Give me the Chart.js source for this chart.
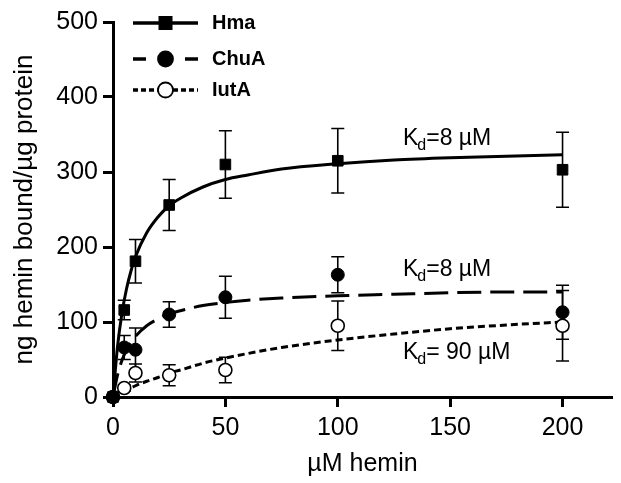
<!DOCTYPE html>
<html>
<head>
<meta charset="utf-8">
<script src="https://cdn.jsdelivr.net/npm/chart.js@4.4.1/dist/chart.umd.min.js"></script>
<style>
  html, body { margin: 0; padding: 0; background: #fff; }
  #wrap { width: 621px; height: 483px; }
</style>
</head>
<body>
<div id="wrap"><canvas id="bindingChart" width="621" height="483"></canvas></div>
<script>
// Concentrations (µM hemin) and measured binding (ng hemin / µg protein)
const concentrations = [0, 5, 10, 25, 50, 100, 200];
const hmaBound = [0, 116, 181, 256, 310, 315, 303];
const hmaErr = [0, 13, 29, 34, 45, 43, 50];
const chuaBound = [0, 66, 63, 110, 133, 163, 113];
const chuaErr = [0, 16, 29, 17, 28, 24, 36];
const iutaBound = [0, 12, 32, 29, 36, 95, 95];
const iutaErr = [0, 4, 12, 14, 17, 33, 47];

// Fitted saturation curves
const fitX = [0, 2, 4, 6, 8, 10, 15, 20, 25, 30, 40, 50, 60, 75, 100, 125, 150, 175, 200];
const hmaFit = [0, 67, 112, 144, 168, 187, 219, 240, 255, 265, 280, 290, 296, 304, 311, 316, 319, 321, 323];
const chuaFit = [0, 29, 49, 63, 73, 81, 95, 104, 111, 115, 122, 126, 129, 132, 135, 137, 139, 140, 140];
const iutaFit = [0, 3, 6, 9, 12, 15, 21, 26, 32, 36, 45, 52, 58, 66, 76, 84, 91, 96, 100];

const seriesNames = ["Hma", "ChuA", "IutA"];
const kdLabels = ["=8 µM", "=8 µM", "= 90 µM"];
const kdPos = [[129, 345], [129, 170], [129, 59]];

const xTicks = [0, 50, 100, 150, 200];
const yTicks = [0, 100, 200, 300, 400, 500];

const FONT = "Arial, 'Liberation Sans', sans-serif";
Chart.defaults.font.family = FONT;
Chart.defaults.color = "#000";

const pts = (ys) => concentrations.map((x, i) => ({ x: x, y: ys[i] }));
const fit = (ys) => fitX.map((x, i) => ({ x: x, y: ys[i] }));

const styles = [
    { dash: [], legendDash: [], pointStyle: "rect", radius: 7.5, fill: "#000" },
    { dash: [24, 9], legendDash: [13, 13], pointStyle: "circle", radius: 6.5, fill: "#000" },
    { dash: [7, 4], legendDash: [5, 3], pointStyle: "circle", radius: 6.5, fill: "#fff" },
];

// Error bars, drawn below the markers
const errorBars = {
    id: "errorBars",
    beforeDatasetsDraw(chart) {
        const ctx = chart.ctx;
        const xs = chart.scales.x, ys = chart.scales.y;
        const sets = [[hmaBound, hmaErr], [chuaBound, chuaErr], [iutaBound, iutaErr]];
        ctx.save();
        ctx.strokeStyle = "#000";
        ctx.lineWidth = 1.6;
        sets.forEach(([vals, errs]) => {
            concentrations.forEach((c, i) => {
                if (!errs[i]) return;
                const px = xs.getPixelForValue(c);
                const top = ys.getPixelForValue(vals[i] + errs[i]);
                const bot = ys.getPixelForValue(vals[i] - errs[i]);
                ctx.beginPath();
                ctx.moveTo(px, top); ctx.lineTo(px, bot);
                ctx.moveTo(px - 6.5, top); ctx.lineTo(px + 6.5, top);
                ctx.moveTo(px - 6.5, bot); ctx.lineTo(px + 6.5, bot);
                ctx.stroke();
            });
        });
        ctx.restore();
    },
};

// Legend in the upper left + Kd labels
const annotations = {
    id: "annotations",
    afterDraw(chart) {
        const ctx = chart.ctx;
        const area = chart.chartArea;
        const rows = [0, 36, 67];
        ctx.save();
        styles.forEach((s, i) => {
            const y = area.top + 1 + rows[i];
            const x0 = area.left + 20, x1 = area.left + 85, xm = (x0 + x1) / 2;
            ctx.strokeStyle = "#000";
            ctx.lineWidth = 3.5;
            ctx.setLineDash(s.legendDash);
            ctx.beginPath();
            ctx.moveTo(x0, y); ctx.lineTo(x1, y);
            ctx.stroke();
            ctx.setLineDash([]);
            ctx.fillStyle = s.fill;
            ctx.lineWidth = 1.8;
            if (s.pointStyle === "rect") {
                ctx.fillRect(xm - 7, y - 7, 14, 14);
            } else {
                ctx.beginPath();
                ctx.arc(xm, y, 7.5, 0, Math.PI * 2);
                ctx.fill();
                ctx.stroke();
            }
            ctx.fillStyle = "#000";
            ctx.font = "bold 20px " + FONT;
            ctx.textBaseline = "middle";
            ctx.fillText(seriesNames[i], area.left + 99, y);
        });

        const xs = chart.scales.x, ys = chart.scales.y;
        kdLabels.forEach((txt, i) => {
            const px = xs.getPixelForValue(kdPos[i][0]);
            const py = ys.getPixelForValue(kdPos[i][1]);
            ctx.textBaseline = "middle";
            ctx.font = "23px " + FONT;
            ctx.fillText("K", px, py);
            const kw = ctx.measureText("K").width;
            ctx.font = "16px " + FONT;
            ctx.fillText("d", px + kw - 1, py + 7);
            const dw = ctx.measureText("d").width;
            ctx.font = "23px " + FONT;
            ctx.fillText(txt, px + kw + dw - 1, py);
        });
        ctx.restore();
    },
};

const ctx = document.getElementById("bindingChart").getContext("2d");
new Chart(ctx, {
    type: "scatter",
    data: {
        datasets: [
            ...[hmaBound, chuaBound, iutaBound].map((vals, i) => ({
                label: seriesNames[i],
                data: pts(vals),
                showLine: false,
                pointStyle: styles[i].pointStyle,
                pointRadius: styles[i].radius,
                pointBackgroundColor: styles[i].fill,
                pointBorderColor: "#000",
                pointBorderWidth: i === 2 ? 1.6 : 1,
                clip: false,
            })),
            ...[hmaFit, chuaFit, iutaFit].map((vals, i) => ({
                label: seriesNames[i] + " fit",
                data: fit(vals),
                showLine: true,
                borderColor: "#000",
                borderWidth: 3,
                borderDash: styles[i].dash,
                pointRadius: 0,
                cubicInterpolationMode: "monotone",
                clip: false,
            })),
        ],
    },
    options: {
        responsive: false,
        animation: false,
        layout: { padding: { top: 22, right: 9, left: 0, bottom: 0 } },
        plugins: {
            legend: { display: false },
            tooltip: { enabled: false },
        },
        scales: {
            x: {
                type: "linear",
                min: 0,
                max: 222,
                afterFit(scale) { scale.height = 86; },
                afterBuildTicks(scale) { scale.ticks = xTicks.map((v) => ({ value: v })); },
                ticks: { font: { size: 25 }, padding: 6, color: "#000" },
                grid: { drawOnChartArea: false, tickLength: 10, tickWidth: 3, tickColor: "#000" },
                border: { color: "#000", width: 3 },
                title: { display: true, text: "µM hemin", font: { size: 25 }, color: "#000", padding: { top: 0, bottom: 4 } },
            },
            y: {
                min: 0,
                max: 500,
                afterFit(scale) { scale.width = 113; },
                afterBuildTicks(scale) { scale.ticks = yTicks.map((v) => ({ value: v })); },
                ticks: { font: { size: 25 }, padding: 5, color: "#000" },
                grid: { drawOnChartArea: false, tickLength: 10, tickWidth: 3, tickColor: "#000" },
                border: { color: "#000", width: 3 },
                title: { display: true, text: "ng hemin bound/µg protein", font: { size: 26 }, color: "#000", padding: { top: 9, bottom: 0 } },
            },
        },
    },
    plugins: [errorBars, annotations],
});
</script>
</body>
</html>
